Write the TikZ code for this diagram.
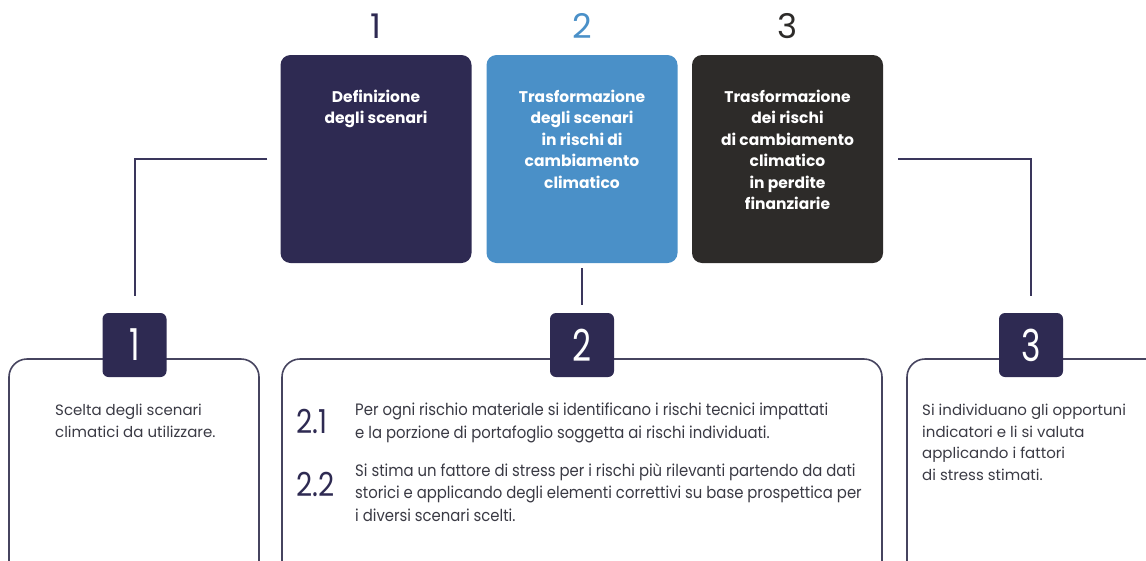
\documentclass[tikz,border=0pt]{standalone}
\usepackage{fontspec}
\setmainfont{Poppins}
\usetikzlibrary{positioning}
\definecolor{navy}{HTML}{2E2A52}
\definecolor{skyblue}{HTML}{4A90C8}
\definecolor{charcoal}{HTML}{2D2B29}
\definecolor{linec}{HTML}{3A365C}
\definecolor{cardline}{HTML}{46445F}
\definecolor{textgrey}{HTML}{3A3A44}

\begin{document}
\begin{tikzpicture}[x=1pt, y=-1pt,
              every node/.style = {inner sep=0pt, align=center},
              topbox/.style = {rounded corners=10pt, minimum width=191pt,
                minimum height=208pt},
              toptext/.style = {anchor=north, text=white,
                font=\bfseries\fontsize{15.5}{21.5}\selectfont},
              topnum/.style = {font=\fontsize{34}{34}\selectfont},
              badge/.style = {fill=navy, rounded corners=6pt, minimum size=64pt,
                text=white, font=\fontsize{44}{44}\selectfont\addfontfeature{FakeStretch=0.75}},
              stepcard/.style = {draw=cardline, line width=1.6pt,
                rounded corners=18pt, minimum height=262pt},
              cardtext/.style = {anchor=north west, align=left, text=textgrey,
                font=\fontsize{15}{21.5}\selectfont},
              narrowtext/.style = {cardtext,
                font=\fontsize{16.5}{22.5}\selectfont\addfontfeature{FakeStretch=0.9}},
              bignum/.style = {anchor=west, text=navy,
                font=\fontsize{33}{33}\selectfont\addfontfeature{FakeStretch=0.85}},
              link/.style = {draw=linec, line width=2pt}]
  \useasboundingbox (0,0) rectangle (1146,560);
  \clip (0,0) rectangle (1146,560);

  % the three phases
  \node[topbox, fill=navy] (def) at (376,159) {};
  \node[topbox, fill=skyblue] (trans) at (582,159) {};
  \node[topbox, fill=charcoal] (fin) at (787.5,159) {};
  \node[toptext] at ([yshift=-35pt]def.north) {Definizione\\degli scenari};
  \node[toptext] at ([yshift=-35pt]trans.north)
    {Trasformazione\\degli scenari\\in rischi di\\cambiamento\\climatico};
  \node[toptext] at ([yshift=-35pt]fin.north)
    {Trasformazione\\dei rischi\\di cambiamento\\climatico\\in perdite\\finanziarie};
  \node[topnum, text=navy, above=16pt of def] {1};
  \node[topnum, text=skyblue, above=16pt of trans] {2};
  \node[topnum, text=charcoal, above=16pt of fin] {3};

  % cards below
  \node[stepcard, minimum width=250pt] (cone) at (134,490) {};
  \node[stepcard, minimum width=600pt] (ctwo) at (582,490) {};
  \node[stepcard, minimum width=263pt] (cthree) at (1038.5,490) {};

  \node[badge] (bone) at (134.5,345) {1};
  \node[badge] (btwo) at (582,345) {2};
  \node[badge] (bthree) at (1031,345) {3};

  \node[cardtext] (tone) at (55,404)
    {Scelta degli scenari\\climatici da utilizzare.};
  \node[bignum] (ntwoa) at (296,421) {2.1};
  \node[narrowtext] (ttwoa) at (355,403)
    {Per ogni rischio materiale si identificano i rischi tecnici impattati\\
     e la porzione di portafoglio soggetta ai rischi individuati.};
  \node[bignum] (ntwob) at (296,484) {2.2};
  \node[narrowtext] (ttwob) at (355,463)
    {Si stima un fattore di stress per i rischi pi\`u rilevanti partendo da dati\\
     storici e applicando degli elementi correttivi su base prospettica per\\
     i diversi scenari scelti.};
  \node[cardtext] (tthree) at (922,404)
    {Si individuano gli opportuni\\indicatori e li si valuta\\
     applicando i fattori\\di stress stimati.};

  % connectors
  \draw[link] ([xshift=-13pt]def.west) -| ([yshift=17pt]bone.north);
  \draw[link] ([yshift=-5pt]trans.south) -- ([yshift=8pt]btwo.north);
  \draw[link] ([xshift=15pt]fin.east) -| ([yshift=17pt]bthree.north);
\end{tikzpicture}
\end{document}
